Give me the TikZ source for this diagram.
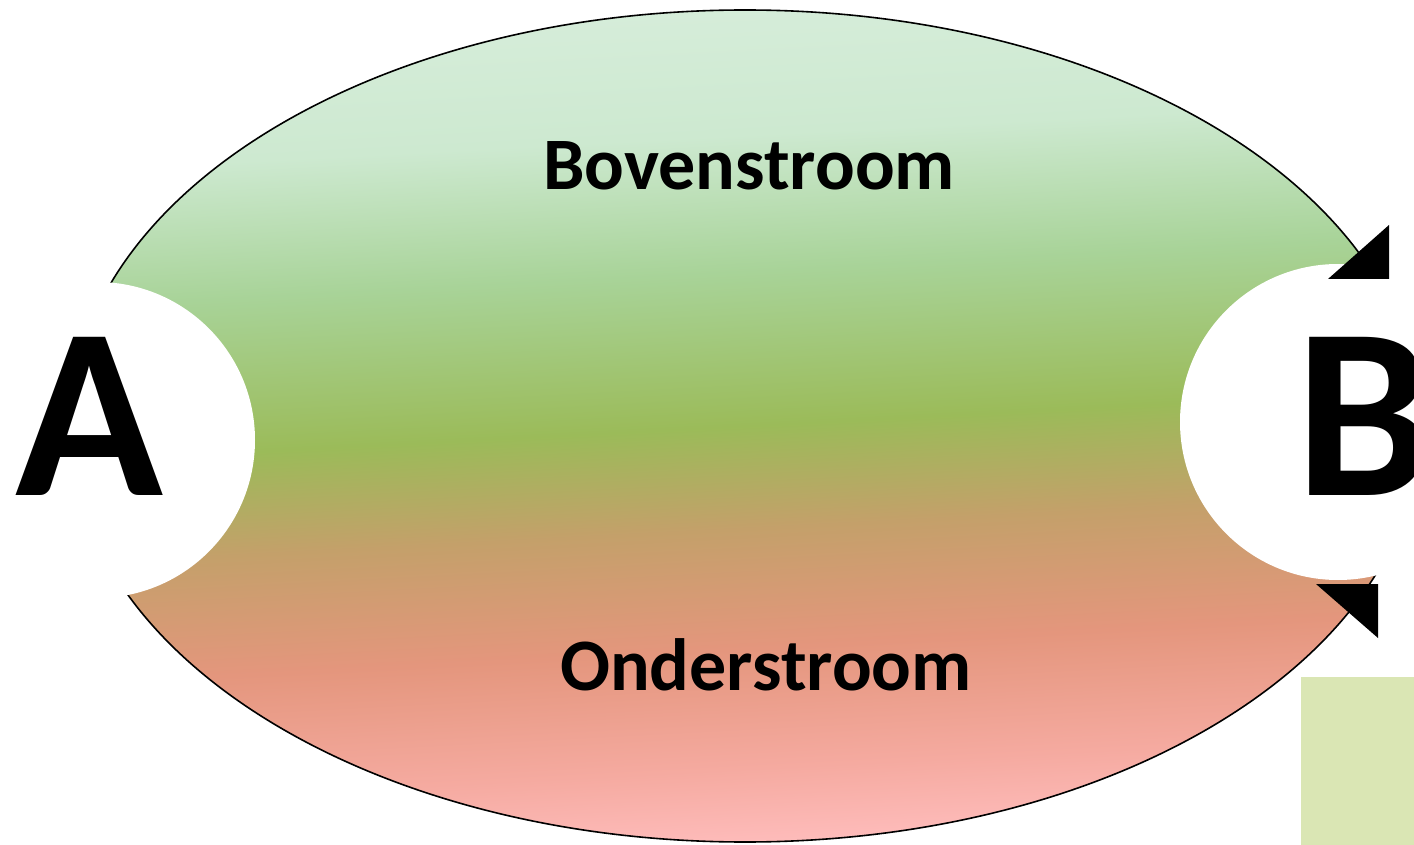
\documentclass[tikz,border=0pt]{standalone}
\usepackage{fontspec}
\setmainfont{Carlito}
\definecolor{minttop}{RGB}{214,237,218}
\definecolor{mintlow}{RGB}{205,233,208}
\definecolor{leafgreen}{RGB}{168,211,152}
\definecolor{olivegreen}{RGB}{155,187,89}
\definecolor{ochre}{RGB}{196,160,106}
\definecolor{salmon}{RGB}{228,150,125}
\definecolor{rosy}{RGB}{245,170,160}
\definecolor{pinkbot}{RGB}{255,190,190}
\definecolor{restgreen}{RGB}{218,230,180}
\pgfdeclareverticalshading{streamshade}{100bp}{color(0bp)=(pinkbot); color(25bp)=(pinkbot);
  color(30bp)=(rosy); color(37bp)=(salmon); color(44bp)=(ochre); color(50bp)=(olivegreen);
  color(59bp)=(leafgreen); color(67bp)=(mintlow); color(75bp)=(minttop); color(100bp)=(minttop)}
\begin{document}
\begin{tikzpicture}[x=0.5pt,y=-0.5pt,
    label/.style={inner sep=0pt, anchor=base, font=\fontsize{37}{40}\selectfont\bfseries},
    bigletter/.style={inner sep=0pt, anchor=base, font=\fontsize{122}{126}\selectfont\bfseries}]
  \useasboundingbox (0,0) rectangle (1414,845);
  \draw[line width=0.8pt, shading=streamshade, shading angle=3]
    (745,426) ellipse [x radius=675, y radius=416];
  \foreach \xy in {(97,440),(1338,422)}
    \fill[white] \xy circle [radius=158];
  \fill (1389,225) -- (1389,279) -- (1328,279) -- cycle;
  \fill (1316,584) -- (1378,584) -- (1378,638) -- cycle;
  \fill[restgreen] (1301,677) rectangle (1414,845);
  \node[label] (boven) at (749,190) {Bovenstroom};
  \node[label] (onder) at (766,690) {Onderstroom};
  \node[bigletter] (pointa) at (89,495) {A};
  \node[bigletter, anchor=base west] (pointb) at (1295,495) {B};
\end{tikzpicture}
\end{document}
